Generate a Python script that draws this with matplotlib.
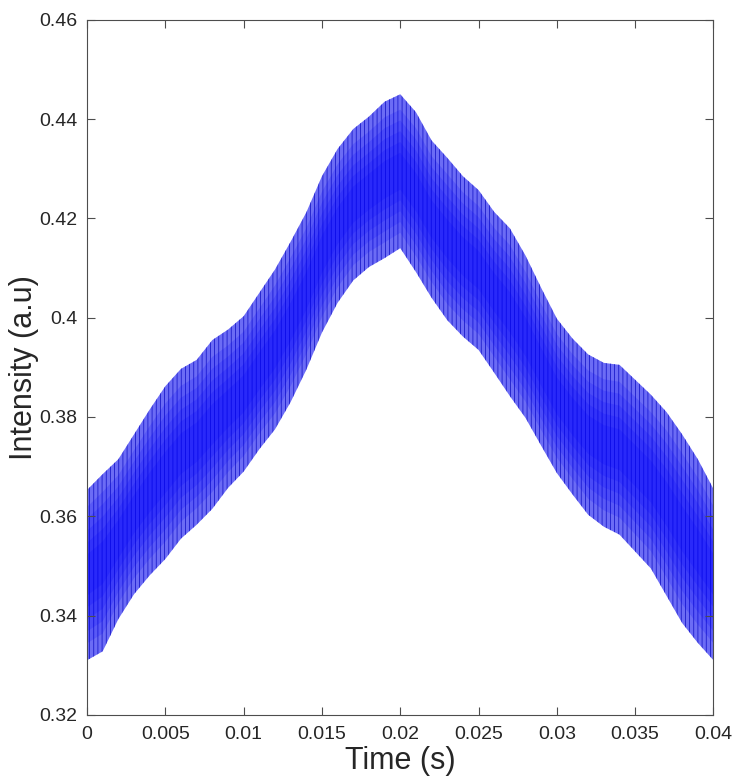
import numpy as np
import matplotlib
matplotlib.use('Agg')
import matplotlib.pyplot as plt

# envelope of the fast oscillation, every 1 ms
time_s = np.arange(0, 41) * 0.001
upper = [0.3653, 0.3685, 0.3715, 0.3765, 0.3815, 0.3862, 0.3897, 0.3915, 0.3955, 0.3976,
         0.4003, 0.4050, 0.4097, 0.4153, 0.4212, 0.4285, 0.4340, 0.4380, 0.4405, 0.4435,
         0.4450, 0.4414, 0.4357, 0.4322, 0.4285, 0.4257, 0.4213, 0.4180, 0.4125, 0.4060,
         0.3998, 0.3958, 0.3926, 0.3909, 0.3905, 0.3875, 0.3845, 0.3810, 0.3765, 0.3715,
         0.3655]
lower = [0.3310, 0.3328, 0.3393, 0.3443, 0.3481, 0.3514, 0.3555, 0.3583, 0.3615, 0.3657,
         0.3690, 0.3735, 0.3775, 0.3830, 0.3895, 0.3970, 0.4030, 0.4075, 0.4102, 0.4120,
         0.4140, 0.4092, 0.4040, 0.3995, 0.3962, 0.3935, 0.3889, 0.3842, 0.3798, 0.3742,
         0.3687, 0.3644, 0.3603, 0.3579, 0.3563, 0.3529, 0.3495, 0.3440, 0.3385, 0.3345,
         0.3310]

xticks = [0, 0.005, 0.01, 0.015, 0.02, 0.025, 0.03, 0.035, 0.04]
xticklabels = ['0', '0.005', '0.01', '0.015', '0.02', '0.025', '0.03', '0.035', '0.04']
yticks = [0.32, 0.34, 0.36, 0.38, 0.4, 0.42, 0.44, 0.46]
yticklabels = ['0.32', '0.34', '0.36', '0.38', '0.4', '0.42', '0.44', '0.46']

plt.rcParams['font.family'] = ['Liberation Sans', 'DejaVu Sans']
plt.rcParams['hatch.color'] = '#1414c8'
plt.rcParams['hatch.linewidth'] = 0.55

fig = plt.figure(figsize=(7.32, 7.78), dpi=100)
ax = fig.add_axes([0.1189, 0.0811, 0.8558, 0.8935])

up = np.array(upper)
lo = np.array(lower)
h = up - lo

# base band with vertical line texture
ax.fill_between(time_s, lo, up, facecolor='#6c6cf5', edgecolor='#1414c8',
                hatch='||||', linewidth=0)
# denser centre of the band
for f in [0.1, 0.17, 0.24, 0.31, 0.38]:
    ax.fill_between(time_s, lo + f * h, up - f * h, facecolor='#0000ff',
                    alpha=0.17, linewidth=0)

ax.set_xlim(0, 0.04)
ax.set_ylim(0.32, 0.46)
ax.set_xticks(xticks)
ax.set_xticklabels(xticklabels)
ax.set_yticks(yticks)
ax.set_yticklabels(yticklabels)
ax.tick_params(direction='in', length=6, width=0.8, colors='#4d4d4d',
               labelcolor='#262626', labelsize=14, top=True, right=True)
ax.tick_params(axis='x', pad=8)
ax.tick_params(axis='y', pad=7)
for s in ax.spines.values():
    s.set_color('#4d4d4d')
    s.set_linewidth(0.8)

ax.set_xlabel('Time (s)', fontsize=22, color='#262626', labelpad=2)
ax.set_ylabel('Intensity (a.u)', fontsize=22, color='#262626', labelpad=0)

fig.savefig('out.png', dpi=100)
